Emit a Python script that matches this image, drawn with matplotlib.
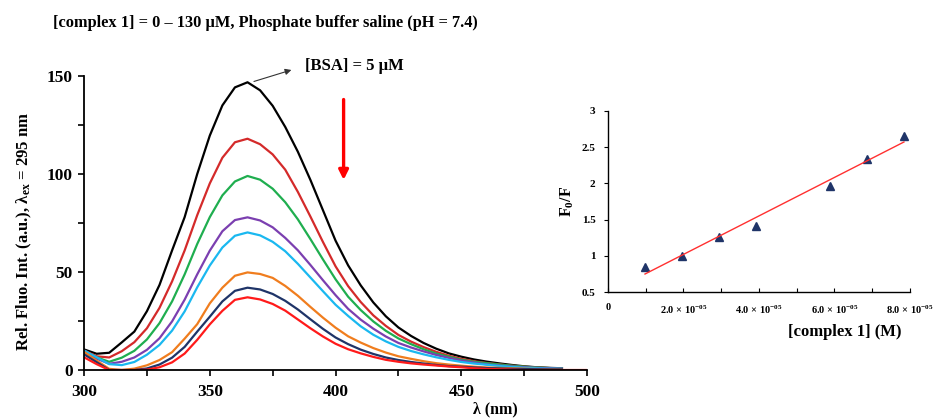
import numpy as np
import matplotlib
matplotlib.use("Agg")
import matplotlib.pyplot as plt

plt.rcParams['font.family'] = ['Liberation Serif', 'DejaVu Serif']
plt.rcParams['font.weight'] = 'bold'
plt.rcParams['mathtext.fontset'] = 'custom'
plt.rcParams['mathtext.rm'] = 'Liberation Serif:bold'
plt.rcParams['mathtext.it'] = 'Liberation Serif:bold:italic'
plt.rcParams['mathtext.bf'] = 'Liberation Serif:bold'

# ---------------- data ----------------
wavelength = [300, 305, 310, 315, 320, 325, 330, 335, 340, 345, 350, 355, 360, 365,
              370, 375, 380, 385, 390, 395, 400, 405, 410, 415, 420, 425, 430, 435,
              440, 445, 450, 455, 460, 465, 470, 475, 480, 485, 490]

f_black = [10.5, 8.3, 8.8, 14.1, 19.6, 30.0, 43.4, 61.0, 78.0, 100.0, 119.6, 135.0, 144.2, 146.8,
           142.7, 134.8, 124.0, 111.4, 97.0, 81.5, 66.0, 53.4, 43.2, 34.5, 27.4, 21.7, 17.4, 13.8,
           10.9, 8.5, 6.8, 5.4, 4.3, 3.4, 2.6, 1.9, 1.4, 1.1, 0.9]
f_red = [10.0, 7.0, 6.4, 9.6, 14.2, 21.3, 31.7, 45.2, 61.0, 79.0, 95.2, 108.3, 116.2, 118.0,
         115.2, 110.0, 102.2, 90.9, 78.3, 65.3, 52.9, 42.8, 34.7, 27.9, 22.5, 17.9, 14.5, 11.7,
         9.3, 7.3, 5.7, 4.5, 3.6, 2.9, 2.2, 1.7, 1.3, 1.0, 0.8]
f_green = [9.5, 6.5, 4.2, 6.3, 9.8, 15.6, 23.9, 35.0, 48.8, 64.3, 78.0, 89.1, 96.2, 99.0,
           97.1, 92.5, 85.6, 76.9, 66.8, 56.4, 46.3, 37.4, 30.6, 24.8, 20.0, 16.1, 13.2, 10.6,
           8.4, 6.8, 5.2, 4.2, 3.5, 2.8, 2.2, 1.7, 1.3, 1.0, 0.8]
f_purple = [9.0, 5.8, 3.2, 4.2, 6.4, 10.3, 16.2, 24.8, 35.9, 48.8, 60.9, 70.8, 76.5, 77.9,
            76.3, 72.8, 67.4, 61.1, 53.6, 45.8, 38.2, 31.2, 25.7, 21.1, 17.1, 13.8, 11.5, 9.5,
            7.7, 6.2, 4.8, 3.8, 2.9, 2.3, 1.8, 1.4, 1.1, 0.9, 0.7]
f_sky = [10.0, 6.5, 3.0, 2.5, 4.1, 7.8, 12.8, 20.1, 29.9, 42.2, 53.3, 62.5, 68.5, 70.2,
         68.7, 65.4, 60.6, 54.2, 47.2, 40.2, 33.3, 27.6, 22.3, 18.0, 14.6, 11.8, 9.7, 8.0,
         6.5, 5.2, 4.1, 3.3, 2.7, 2.1, 1.6, 1.2, 0.9, 0.7, 0.6]
f_orange = [9.3, 4.8, 0.6, 0.0, 0.7, 2.4, 5.1, 9.1, 16.0, 23.4, 34.0, 42.0, 48.1, 49.8,
            49.0, 47.0, 42.9, 37.9, 32.2, 26.7, 21.6, 17.2, 14.0, 11.2, 8.9, 7.0, 5.7, 4.5,
            3.5, 2.8, 2.2, 1.7, 1.3, 1.1, 0.9, 0.7, 0.5, 0.4, 0.3]
f_navy = [8.0, 4.0, 0.0, 0.0, 0.0, 0.8, 2.8, 6.3, 11.8, 19.6, 27.2, 35.0, 40.4, 42.0,
          41.1, 38.8, 35.3, 30.9, 25.9, 21.0, 16.6, 13.2, 10.4, 8.2, 6.4, 5.1, 4.1, 3.3,
          2.6, 2.0, 1.7, 1.3, 1.0, 0.8, 0.6, 0.5, 0.4, 0.3, 0.3]
wavelength_last = wavelength + [495, 500]
f_red2 = [6.5, 3.0, 0.0, 0.0, 0.0, 0.2, 1.4, 3.9, 8.4, 15.4, 23.3, 30.2, 35.8, 37.1,
          36.0, 33.7, 30.3, 25.8, 21.3, 17.1, 13.4, 10.6, 8.5, 6.7, 5.2, 4.2, 3.4, 2.8,
          2.3, 1.8, 1.4, 0.9, 0.6, 0.4, 0.2, 0.0, 0.0, 0.0, 0.0, 0.0, 0.0]

series = [f_black, f_red, f_green, f_purple, f_sky, f_orange, f_navy]
colors = ['#000000', '#d42a2a', '#1fae4f', '#7b3fb0', '#1ab8f0', '#f07d1e', '#1f3468']

conc = [0.98e-5, 1.96e-5, 2.94e-5, 3.92e-5, 5.88e-5, 6.86e-5, 7.84e-5]
f0_f = [0.85, 1.00, 1.26, 1.41, 1.97, 2.34, 2.66]

x_ticks_main = [300, 350, 400, 450, 500]
y_ticks_main = [0, 50, 100, 150]
inset_xticks = [0, 2e-5, 4e-5, 6e-5, 8e-5]
inset_xlabels = ['0', r'2.0 × 10$^{-05}$', r'4.0 × 10$^{-05}$', r'6.0 × 10$^{-05}$', r'8.0 × 10$^{-05}$']
inset_yticks = [0.5, 1, 1.5, 2, 2.5, 3]
inset_ylabels = ['0.5', '1', '1.5', '2', '2.5', '3']

# ---------------- figure ----------------
fig = plt.figure(figsize=(9.39, 4.19), dpi=100)
ax = fig.add_axes([0.0895, 0.1169, 0.5357, 0.7017])

for ys, c in zip(series, colors):
    ax.plot(wavelength, ys, color=c, lw=1.6, solid_joinstyle='round')
ax.plot(wavelength_last, f_red2, color='#ff1a1a', lw=1.6, solid_joinstyle='round')

ax.set_xlim(300, 500)
ax.set_ylim(0, 150)
ax.set_xticks(x_ticks_main)
ax.set_xticks(np.arange(300, 501, 25), minor=True)
ax.set_yticks(y_ticks_main)
ax.set_yticks(np.arange(0, 151, 25), minor=True)
for s in ['top', 'right']:
    ax.spines[s].set_visible(False)
for s in ['left', 'bottom']:
    ax.spines[s].set_linewidth(1.3)
ax.tick_params(axis='both', which='both', direction='out', length=4, width=1.2, labelsize=12.5)
ax.tick_params(axis='x', pad=6)
ax.tick_params(axis='y', pad=4)
for lab in ax.get_xticklabels() + ax.get_yticklabels():
    lab.set_fontweight('bold')

ax.set_ylabel(r'Rel. Fluo. Int. (a.u.), λ$_{\mathrm{ex}}$ = 295 nm', fontsize=12, fontweight='bold')
ax.yaxis.set_label_coords(-0.1, 0.47)
fig.text(0.528, 0.022, 'λ (nm)', fontsize=11.5, fontweight='bold', ha='center', va='center')

fig.text(0.056, 0.945, '[complex 1] = 0 – 130 μM, Phosphate buffer saline (pH = 7.4)',
         fontsize=11.8, fontweight='bold', ha='left', va='center')

# arrow to BSA label
ax.annotate('', xy=(383.5, 153.5), xytext=(366.5, 146.8),
            arrowprops=dict(arrowstyle='-|>', color='#333333', lw=0.8, mutation_scale=9),
            annotation_clip=False)
ax.text(388, 155.2, '[BSA] = 5 μM', fontsize=12, fontweight='bold', ha='left', va='center', clip_on=False)

# red downward arrow
ax.annotate('', xy=(403.2, 97.0), xytext=(403.2, 138.0),
            arrowprops=dict(arrowstyle='-|>', color='#ff0000', lw=2.4, mutation_scale=14,
                            shrinkA=0, shrinkB=0))

# ---------------- inset ----------------
ins = fig.add_axes([0.6475, 0.3031, 0.3216, 0.4320])
ins.plot(conc, f0_f, linestyle='none', marker='^', color='#1f3468', markersize=6)
k, b = np.polyfit(conc, f0_f, 1)
xf = np.array([conc[0], conc[-1]])
ins.plot(xf, k * xf + b, color='#ff3030', lw=1.0)
ins.set_xlim(0, 8e-5)
ins.set_ylim(0.5, 3)
ins.set_xticks(inset_xticks)
ins.set_xticklabels(inset_xlabels)
ins.set_xticks(np.arange(0, 8.01e-5, 1e-5), minor=True)
ins.set_yticks(inset_yticks)
ins.set_yticklabels(inset_ylabels)
for s in ['top', 'right']:
    ins.spines[s].set_visible(False)
for s in ['left', 'bottom']:
    ins.spines[s].set_linewidth(1.0)
ins.tick_params(axis='x', which='both', direction='in', length=3, width=0.8, labelsize=7.5, pad=8)
ins.tick_params(axis='y', which='both', direction='out', length=3, width=0.8, labelsize=8, pad=6)
for lab in ins.get_xticklabels() + ins.get_yticklabels():
    lab.set_fontweight('bold')
ins.set_ylabel(r'F$_0$/F', fontsize=11.5, fontweight='bold')
ins.yaxis.set_label_coords(-0.105, 0.5)
fig.text(0.9, 0.208, '[complex 1] (M)', fontsize=12, fontweight='bold', ha='center', va='center')

fig.savefig('out.png', dpi=100)
